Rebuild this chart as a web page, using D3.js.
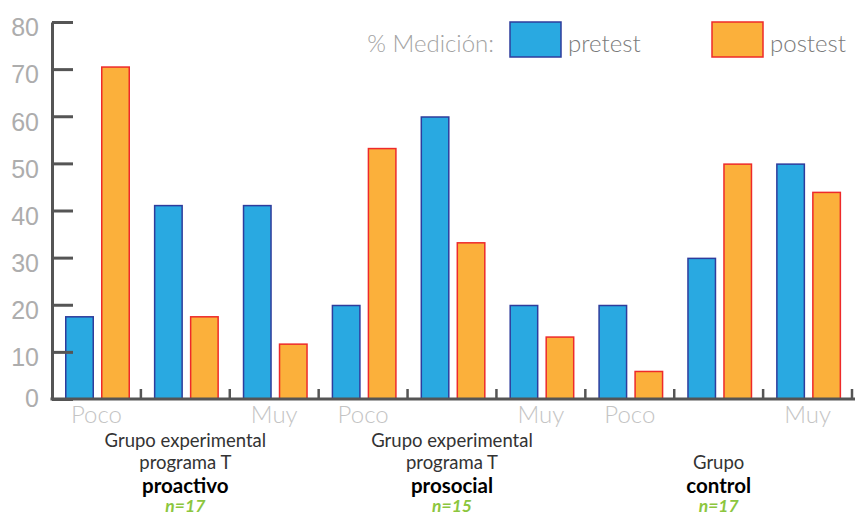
<!DOCTYPE html>
<html>
<head>
<meta charset="utf-8">
<script src="https://cdn.jsdelivr.net/npm/d3@7"></script>
<style>
  body { margin: 0; background: #fff; }
  svg { font-family: Lato, "Open Sans", sans-serif; }
</style>
</head>
<body>
<script>
(function () {

    //chart data
    var categories = ["c1", "c2", "c3", "c4", "c5", "c6", "c7", "c8", "c9"];
    var catLabels = ["Poco", "", "Muy", "Poco", "", "Muy", "Poco", "", "Muy"];
    var series = ["pretest", "postest"];
    var pretest = [17.6, 41.2, 41.2, 20, 60, 20, 20, 30, 50];
    var postest = [70.6, 17.6, 11.8, 53.3, 33.3, 13.3, 6, 50, 44];
    var yTicks = [0, 10, 20, 30, 40, 50, 60, 70, 80];
    var groupLines = [
        ["Grupo experimental", "programa T", "proactivo", "n=17"],
        ["Grupo experimental", "programa T", "prosocial", "n=15"],
        ["", "Grupo", "control", "n=17"]
    ];
    var groupCenterCat = ["c2", "c5", "c8"];

    var colors = { pretest: "#29a9e1", postest: "#fbb03b" };
    var strokes = { pretest: "#2e3c9c", postest: "#ee2a2a" };

    //frame
    var width = 860, height = 515;
    var left = 52, right = 852, top = 22, bottom = 399;

    var svg = d3.select("body")
        .append("svg")
        .attr("width", width)
        .attr("height", height);

    //scales
    var x0 = d3.scaleBand().domain(categories).range([left, right]).padding(0);
    var x1 = d3.scaleBand().domain(series).range([13, 78]).paddingInner(7 / 36);
    var y = d3.scaleLinear().domain([0, 80]).range([bottom, top]);

    //bars
    var rows = categories.map(function (c, i) {
        return { cat: c, pretest: pretest[i], postest: postest[i] };
    });

    var groups = svg.selectAll(".cat")
        .data(rows)
        .enter()
        .append("g")
        .attr("class", "cat")
        .attr("transform", function (d) { return "translate(" + x0(d.cat) + ",0)"; });

    groups.selectAll("rect")
        .data(function (d) { return series.map(function (s) { return { s: s, v: d[s] }; }); })
        .enter()
        .append("rect")
        .attr("x", function (d) { return x1(d.s) + 0.75; })
        .attr("width", x1.bandwidth() - 1.5)
        .attr("y", function (d) { return y(d.v) + 0.75; })
        .attr("height", function (d) { return y(0) - y(d.v) - 0.75; })
        .style("fill", function (d) { return colors[d.s]; })
        .style("stroke", function (d) { return strokes[d.s]; })
        .style("stroke-width", 1.5);

    //y axis, ticks pointing right
    var yAxis = d3.axisLeft(y)
        .tickValues(yTicks)
        .tickSizeInner(-21)
        .tickSizeOuter(0)
        .tickPadding(13);

    var axis = svg.append("g")
        .attr("transform", "translate(" + left + ",0)")
        .call(yAxis);
    axis.select(".domain").attr("stroke", "#555").attr("stroke-width", 3);
    axis.selectAll(".tick line").attr("stroke", "#555").attr("stroke-width", 3);
    axis.selectAll(".tick text")
        .attr("fill", "#adadad")
        .attr("dy", "0.55em")
        .style("font-size", "25px")
        .style("font-weight", "300");
    axis.select(".tick text").attr("dy", "0.3em");

    //x axis line with boundary ticks
    svg.append("line")
        .attr("x1", left - 1.5).attr("x2", right + 3)
        .attr("y1", bottom).attr("y2", bottom)
        .attr("stroke", "#555").attr("stroke-width", 3);

    svg.selectAll(".xtick")
        .data(categories)
        .enter()
        .append("line")
        .attr("class", "xtick")
        .attr("x1", function (d) { return x0(d) + x0.step(); })
        .attr("x2", function (d) { return x0(d) + x0.step(); })
        .attr("y1", bottom - 10).attr("y2", bottom)
        .attr("stroke", "#555").attr("stroke-width", 2.5);

    //category labels
    svg.selectAll(".catLabel")
        .data(categories)
        .enter()
        .append("text")
        .attr("x", function (d) { return x0(d) + x0.bandwidth() / 2; })
        .attr("y", 423)
        .attr("text-anchor", "middle")
        .attr("fill", "#c4c4c4")
        .style("font-size", "24px")
        .style("font-weight", "300")
        .text(function (d, i) { return catLabels[i]; });

    //group labels
    var lineY = [447, 469, 493, 512];
    groupLines.forEach(function (lines, g) {
        var cx = x0(groupCenterCat[g]) + x0.bandwidth() / 2;
        lines.forEach(function (t, k) {
            var txt = svg.append("text")
                .attr("x", cx)
                .attr("y", lineY[k])
                .attr("text-anchor", "middle")
                .text(t);
            if (k < 2) {
                txt.attr("fill", "#333").style("font-size", "18.5px");
            } else if (k == 2) {
                txt.attr("fill", "#000").style("font-size", "20.5px").style("font-weight", "bold");
            } else {
                txt.attr("fill", "#8cc63e").style("font-size", "17.5px")
                    .style("font-weight", "bold").style("font-style", "italic");
            }
        });
    });

    //legend
    svg.append("text")
        .attr("x", 494).attr("y", 52)
        .attr("text-anchor", "end")
        .attr("fill", "#a3a3a3")
        .style("font-size", "24px")
        .style("font-weight", "300")
        .text("% Medición:");

    var legX = [510, 712];
    series.forEach(function (s, i) {
        svg.append("rect")
            .attr("x", legX[i]).attr("y", 22)
            .attr("width", 51).attr("height", 35)
            .style("fill", colors[s])
            .style("stroke", strokes[s])
            .style("stroke-width", 1.5);
        svg.append("text")
            .attr("x", legX[i] + 58).attr("y", 52)
            .attr("fill", "#7a7a7a")
            .style("font-size", "24px")
            .style("font-weight", "300")
            .text(s);
    });

})();
</script>
</body>
</html>
